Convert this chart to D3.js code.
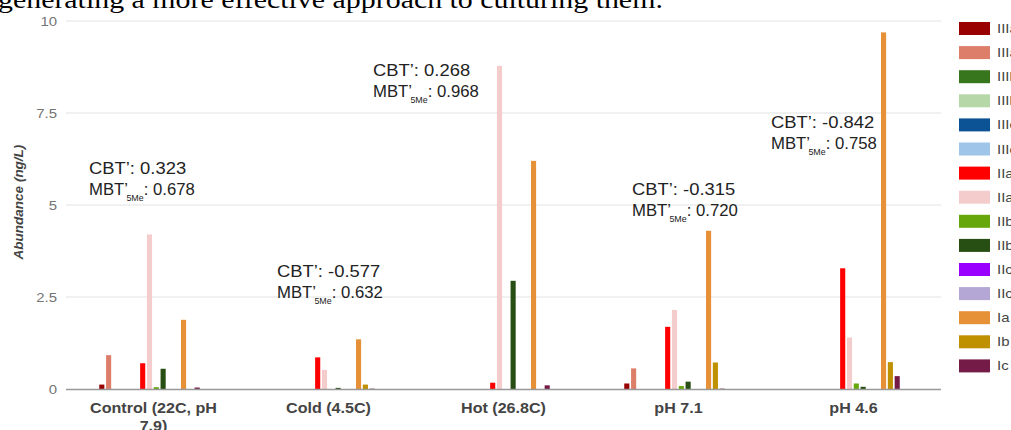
<!DOCTYPE html>
<html>
<head>
<meta charset="utf-8">
<script src="https://cdn.jsdelivr.net/npm/d3@7"></script>
<style>
  body { margin: 0; background: #fff; overflow: hidden; }
  svg { display: block; font-family: "Liberation Sans", Arial, sans-serif; }
</style>
</head>
<body>
<svg width="1011" height="430"></svg>
<script>
"use strict";

// categories on the x axis (second line of the first one is cut off in the picture)
const conditions = ["Control (22C, pH 7.9)", "Cold (4.5C)", "Hot (26.8C)", "pH 7.1", "pH 4.6"];

// GDGT series, in legend order
const seriesNames = ["IIIa", "IIIa'", "IIIb", "IIIb'", "IIIc", "IIIc'", "IIa", "IIa'", "IIb", "IIb'", "IIc", "IIc'", "Ia", "Ib", "Ic"];
const seriesColors = ["#990000", "#dd7e6b", "#38761d", "#b6d7a8", "#0b5394", "#9fc5e8", "#ff0000", "#f4cccc",
                      "#66a80c", "#274e13", "#9900ff", "#b4a7d6", "#e69138", "#bf9000", "#741b47"];

// abundance (ng/L), one array per condition, same order as seriesNames
const controlValues = [0.12, 0.92, 0, 0, 0, 0, 0.70, 4.20, 0.05, 0.55, 0, 0, 1.88, 0, 0.04];
const coldValues    = [0, 0, 0, 0, 0, 0, 0.86, 0.52, 0, 0.03, 0, 0, 1.35, 0.12, 0.01];
const hotValues     = [0, 0, 0, 0, 0, 0, 0.17, 8.78, 0, 2.94, 0, 0, 6.20, 0, 0.10];
const ph71Values    = [0.15, 0.56, 0, 0, 0, 0, 1.69, 2.15, 0.08, 0.20, 0, 0, 4.30, 0.72, 0.01];
const ph46Values    = [0, 0, 0, 0, 0, 0, 3.28, 1.40, 0.15, 0.06, 0, 0, 9.69, 0.73, 0.35];
const allValues = [controlValues, coldValues, hotValues, ph71Values, ph46Values];

// indices shown as annotations
const cbtValues = ["0.323", "-0.577", "0.268", "-0.315", "-0.842"];
const mbtValues = ["0.678", "0.632", "0.968", "0.720", "0.758"];

const yTicks = [0, 2.5, 5, 7.5, 10];
const yTickLabels = ["0", "2.5", "5", "7.5", "10"];

// layout (not data): annotation x offset from band start (px) and height (data units)
const noteOffsetX = [23, 36, -43, 41, 5];
const noteLevel = [5.84, 3.04, 8.5, 5.27, 7.08];

const STRETCH = 1.15; // the picture's text is a little wider than Arial

const svg = d3.select("svg");
const plotLeft = 66, plotRight = 941, plotTop = 21, plotBottom = 389;

const xScale = d3.scaleBand().domain(conditions).range([plotLeft, plotRight]).padding(0);
const xInner = d3.scaleBand().domain(seriesNames).range([0, 15 * 6.7]).paddingInner(0.25);
const yScale = d3.scaleLinear().domain([0, 10]).range([plotBottom, plotTop]);
const color = d3.scaleOrdinal().domain(seriesNames).range(seriesColors);

// helper: text placed at x,y and stretched horizontally
function stretchedText(parent, x, y, sx = STRETCH) {
    return parent.append("g")
        .attr("transform", `translate(${x},${y}) scale(${sx},1)`)
        .append("text");
}

// text from the page above the figure, cut by the top edge
stretchedText(svg, -2, 8)
    .attr("font-family", "'Liberation Serif', 'Times New Roman', serif")
    .attr("font-size", 26)
    .attr("fill", "#000")
    .text("generating a more effective approach to culturing them.");

// gridlines
svg.append("g")
    .selectAll("line")
    .data(yTicks.filter(d => d > 0))
    .join("line")
    .attr("x1", plotLeft).attr("x2", plotRight)
    .attr("y1", d => yScale(d)).attr("y2", d => yScale(d))
    .attr("stroke", "#e2e2e2").attr("stroke-width", 1);

// y tick labels
const yLab = svg.append("g");
yTicks.forEach((t, i) => {
    stretchedText(yLab, 57, yScale(t) + 4.5)
        .attr("text-anchor", "end")
        .attr("font-size", 13)
        .attr("fill", "#757575")
        .text(yTickLabels[i]);
});

// y axis title
svg.append("text")
    .attr("transform", `translate(23,${(plotTop + plotBottom) / 2 - 3}) rotate(-90)`)
    .attr("text-anchor", "middle")
    .attr("font-size", 13.5)
    .attr("font-weight", "bold")
    .attr("font-style", "italic")
    .attr("fill", "#444")
    .text("Abundance (ng/L)");

// bars
const groupShift = (xScale.bandwidth() - xInner.range()[1]) / 2 - 4;
svg.append("g")
    .selectAll("g")
    .data(conditions)
    .join("g")
    .attr("transform", d => `translate(${xScale(d) + groupShift},0)`)
    .selectAll("rect")
    .data((d, i) => allValues[i].map((v, j) => ({ key: seriesNames[j], value: v })))
    .join("rect")
    .attr("x", d => xInner(d.key))
    .attr("y", d => yScale(d.value))
    .attr("width", xInner.bandwidth())
    .attr("height", d => plotBottom - yScale(d.value))
    .attr("fill", d => color(d.key));

// baseline
svg.append("line")
    .attr("x1", plotLeft).attr("x2", plotRight)
    .attr("y1", plotBottom + 0.5).attr("y2", plotBottom + 0.5)
    .attr("stroke", "#999").attr("stroke-width", 1.4);

// x labels (wrapped like the original)
const xLab = svg.append("g");
conditions.forEach(c => {
    const lines = c === conditions[0] ? ["Control (22C, pH", "7.9)"] : [c];
    lines.forEach((ln, k) => {
        stretchedText(xLab, xScale(c) + xScale.bandwidth() / 2, 413 + k * 18)
            .attr("text-anchor", "middle")
            .attr("font-size", 14)
            .attr("font-weight", "bold")
            .attr("fill", "#444")
            .text(ln);
    });
});

// annotations
const notes = svg.append("g");
conditions.forEach((c, i) => {
    const x = xScale(c) + noteOffsetX[i];
    const y = yScale(noteLevel[i]);
    stretchedText(notes, x, y)
        .attr("font-size", 16)
        .attr("fill", "#222")
        .text(`CBT’: ${cbtValues[i]}`);
    const t2 = stretchedText(notes, x, y + 21, 1)
        .attr("font-size", 16)
        .attr("fill", "#222");
    t2.append("tspan").text("MBT’");
    t2.append("tspan").attr("font-size", 8.5).attr("dy", 6).attr("dx", -1.5).text("5Me");
    t2.append("tspan").attr("dy", -6).text(`: ${mbtValues[i]}`);
    // second line is a little narrower than the first in the original
    const w = t2.node().getBBox().width;
    d3.select(t2.node().parentNode).attr("transform", `translate(${x},${y + 21}) scale(${106 / w},1)`);
});

// legend
const legend = svg.append("g");
seriesNames.forEach((s, i) => {
    const y = 22 + i * 24.1;
    legend.append("rect")
        .attr("x", 959).attr("y", y)
        .attr("width", 31).attr("height", 13)
        .attr("fill", color(s));
    stretchedText(legend, 997, y + 11)
        .attr("font-size", 13)
        .attr("fill", "#444")
        .text(s);
});
</script>
</body>
</html>
